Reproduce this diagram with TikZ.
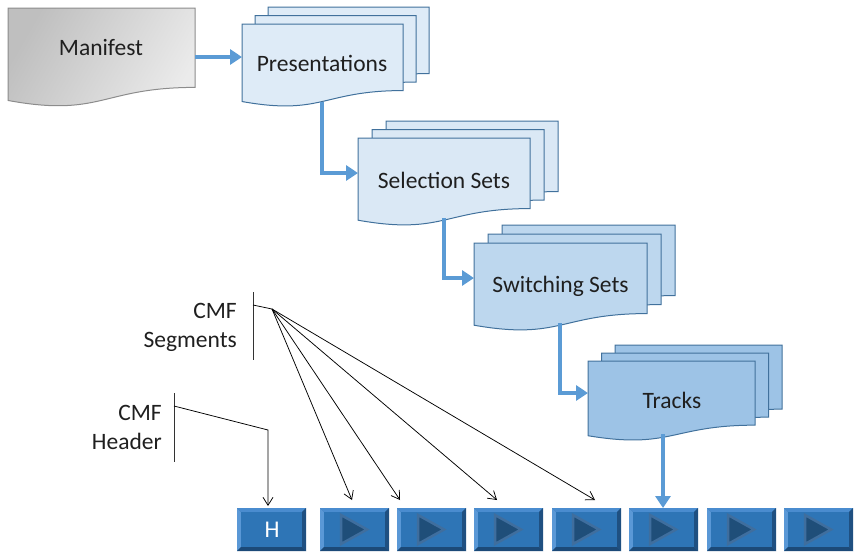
\documentclass[tikz,border=0pt]{standalone}
\usepackage{fontspec}
\setmainfont{Carlito}
\usetikzlibrary{arrows.meta}
\definecolor{flowblue}{HTML}{5B9BD5}
\definecolor{docedge}{HTML}{41719C}
\definecolor{presfill}{HTML}{DEEBF7}
\definecolor{selfill}{HTML}{DAE8F5}
\definecolor{swfill}{HTML}{BDD7EE}
\definecolor{trfill}{HTML}{9DC3E6}
\definecolor{manedge}{HTML}{8C8C8C}
\definecolor{btnfill}{HTML}{2E75B6}
\definecolor{btnlight}{HTML}{5A98D6}
\definecolor{btntop}{HTML}{4A8CCF}
\definecolor{btndark}{HTML}{1C4A78}
\definecolor{btnedge}{HTML}{24598E}
\definecolor{tridark}{HTML}{1F4E79}
\definecolor{triedge}{HTML}{3F6E9E}
% document shape: #1,#2 top-left; #3 width; #4 height; #5 style
\newcommand{\docpath}[5]{%
  \path[#5] (#1,#2) -- ++(#3,0) -- ++(0,{0.802*#4})
    .. controls ++({-0.5*#3},0) and ({#1+0.5*#3},{#2+1.1075*#4}) .. ({#1},{#2+0.934*#4}) -- cycle;}
\newcommand{\docstack}[8]{% x y w h dx dy fill
  \docpath{#1+2*#5}{#2+2*#6}{#3}{#4}{#7}
  \docpath{#1+#5}{#2+#6}{#3}{#4}{#7}
  \docpath{#1}{#2}{#3}{#4}{#7}}
\newcommand{\cmfbutton}[2]{% left x, content flag
  \fill[btnedge] (#1,508) rectangle ++(69,43);
  \fill[btntop] (#1,508) -- ++(69,0) -- ++(-4,4) -- ++(-61,0) -- cycle;
  \fill[btnlight] (#1,508) -- ++(4,4) -- ++(0,35) -- ++(-4,4) -- cycle;
  \fill[btndark] (#1,551) -- ++(69,0) -- ++(-4,-4) -- ++(-61,0) -- cycle;
  \fill[btndark!85!btnfill] (#1+69,508) -- ++(0,43) -- ++(-4,-4) -- ++(0,-35) -- cycle;
  \fill[btnfill] (#1+4,512) rectangle ++(61,35);}
\newcommand{\playicon}[1]{%
  \path[fill=tridark, draw=triedge, line width=2.5pt, line join=miter]
    (#1+21,515) -- (#1+47,529.5) -- (#1+21,544) -- cycle;}
\tikzset{
  x=1pt, y=-1pt,
  doclabel/.style={font=\fontsize{23.5}{26}\selectfont, text=black!88, inner sep=0pt},
  sidelabel/.style={font=\fontsize{23.5}{29}\selectfont, text=black!88, align=right, anchor=east, inner sep=0pt},
  flow/.style={draw=flowblue, line width=4.5pt, -{Triangle[length=12pt,width=15pt]}},
  thin/.style={draw=black, line width=0.75pt, -{Straight Barb[length=8pt,width=10pt]}},
  bracket/.style={draw=black!80, line width=0.9pt},
  docline/.style={draw=docedge, line width=1pt, line join=miter},
}
\begin{document}
\begin{tikzpicture}
\useasboundingbox (0,0) rectangle (865,558);
% Manifest
\docpath{8}{8}{187}{99}{draw=manedge, line width=1pt, left color=black!25, right color=black!8, shading angle=60}
\node[doclabel] (man) at (101,47) {Manifest};
% Presentations
\docstack{242}{24}{161}{83}{13}{-8.5}{docline, fill=presfill}{}
\node[doclabel] (pres) at (322,63) {Presentations};
% Selection sets
\docstack{358}{138}{172}{88}{14}{-8.5}{docline, fill=selfill}{}
\node[doclabel] (sel) at (444,180) {Selection Sets};
% Switching sets
\docstack{474}{243}{173}{88}{14}{-9}{docline, fill=swfill}{}
\node[doclabel] (sw) at (560.5,286) {Switching Sets};
% Tracks
\docstack{588}{361}{167}{80}{13.5}{-8}{docline, fill=trfill}{}
\node[doclabel] (tr) at (672,400) {Tracks};
% buttons
\cmfbutton{237}{}
\node[font=\fontsize{24}{26}\selectfont, text=white, inner sep=0pt] (bH) at (272,529.5) {H};
\foreach \bx [count=\i] in {320,397,474,552,629,707,784}{
  \cmfbutton{\bx}{}
  \playicon{\bx}
  \coordinate (b\i) at (\bx+34.5,508);
}
% connection coordinates
\coordinate (manR) at (195,57);
\coordinate (presL) at (242,57);
\coordinate (presB) at (322,102);
\coordinate (selL) at (358,173);
\coordinate (selB) at (444,218);
\coordinate (swL) at (474,278);
\coordinate (swB) at (560,323);
\coordinate (trL) at (588,393);
\coordinate (trB) at (663,434);
\coordinate (trT) at (663,508);
% flow arrows
\draw[flow] (manR) -- (presL);
\draw[flow] (presB) |- (selL);
\draw[flow] (selB) |- (swL);
\draw[flow] (swB) |- (trL);
\draw[flow] (trB) -- (trT);
% side labels
\node[sidelabel] (seglab) at (237,327) {CMF\\Segments};
\node[sidelabel] (hdrlab) at (162,427.5) {CMF\\Header};
\coordinate (sbt) at (253,292);
\coordinate (sbb) at (253,360);
\coordinate (sb0) at (253,305);
\coordinate (sfan) at (272,309);
\coordinate (hbt) at (174,393);
\coordinate (hbb) at (174,462);
\coordinate (hb0) at (174,406);
\coordinate (hknee) at (268,430);
\coordinate (hend) at (268,506);
\draw[bracket] (sbt) -- (sbb);
\draw[bracket] (hbt) -- (hbb);
\draw[line width=0.75pt] (sb0) -- (sfan);
\draw[thin] (hb0) -- (hknee) -- (hend);
\coordinate (t1) at (352,500);
\coordinate (t2) at (400,500);
\coordinate (t3) at (497,500);
\coordinate (t4) at (595,500);
\foreach \t in {t1,t2,t3,t4}{\draw[thin] (sfan) -- (\t);}
\end{tikzpicture}
\end{document}
